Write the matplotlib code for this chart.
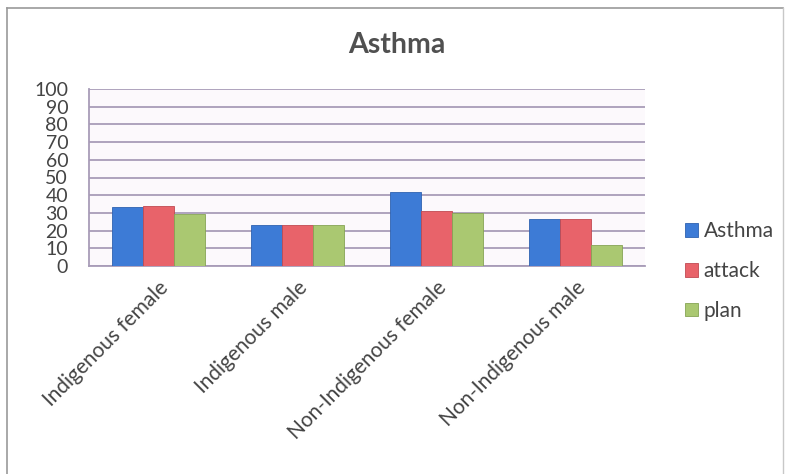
import matplotlib
matplotlib.use("Agg")
import matplotlib.pyplot as plt
import numpy as np

categories = ["Indigenous female", "Indigenous male",
              "Non-Indigenous female", "Non-Indigenous male"]
series = ["Asthma", "attack", "plan"]
asthma = [33.5, 23, 42, 26.5]
attack = [34, 23, 31, 26.5]
plan = [29.2, 23, 30, 12]
colors = ["#3d7bd6", "#e8636a", "#aac871"]
edges = ["#2f62b0", "#c04a52", "#86a454"]

plt.rcParams['font.family'] = ['Lato', 'DejaVu Sans']

fig = plt.figure(figsize=(7.86, 4.74), dpi=100)
fig.patch.set_facecolor("white")

# outer chart frame (runs off the bottom of the scan)
fig.add_artist(plt.Line2D([7 / 786, 7 / 786], [0, 1 - 8 / 474],
                          color="#9a9a9a", lw=1.2, transform=fig.transFigure))
fig.add_artist(plt.Line2D([7 / 786, 783 / 786], [1 - 8 / 474, 1 - 8 / 474],
                          color="#9a9a9a", lw=1.2, transform=fig.transFigure))
fig.add_artist(plt.Line2D([783 / 786, 783 / 786], [0, 1 - 8 / 474],
                          color="#c8c8c8", lw=1.0, transform=fig.transFigure))

ax = fig.add_axes([89 / 786, 1 - 266 / 474, (645 - 89) / 786, (266 - 89) / 474])
ax.set_facecolor("#fcf9fc")

x = np.arange(len(categories))
w = 0.223
for i, (vals, c, e) in enumerate(zip([asthma, attack, plan], colors, edges)):
    ax.bar(x + (i - 1) * w, vals, w, color=c, edgecolor=e, linewidth=0.6,
           label=series[i], zorder=3)

ax.set_xlim(-0.5, len(categories) - 0.5)
ax.set_ylim(0, 100)
ax.set_yticks(range(0, 101, 10))
ax.yaxis.grid(True, color="#a89cb8", lw=1.3, zorder=0)
ax.set_axisbelow(True)
for s in ["top", "right"]:
    ax.spines[s].set_visible(False)
ax.spines["left"].set_color("#a89cb8")
ax.spines["bottom"].set_color("#a89cb8")
ax.spines["left"].set_linewidth(1.3)
ax.spines["bottom"].set_linewidth(1.3)
ax.tick_params(axis="y", length=0, labelsize=14, colors="#444444", pad=15)
ax.set_xticks(x)
ax.set_xticklabels(categories, rotation=45, ha="right", rotation_mode="anchor",
                   fontsize=15, color="#444444")
ax.tick_params(axis="x", length=0, pad=8)

fig.text(397 / 786, 1 - 45 / 474, "Asthma", ha="center", va="center",
         fontsize=20.5, fontweight="bold", color="#505050")

fig.legend(loc="center left", bbox_to_anchor=(666 / 786, 1 - 271 / 474),
           frameon=False, fontsize=15, handlelength=0.65, handleheight=0.65,
           handletextpad=0.25, labelspacing=0.95, labelcolor="#444444")

fig.savefig("out.png", dpi=100)
